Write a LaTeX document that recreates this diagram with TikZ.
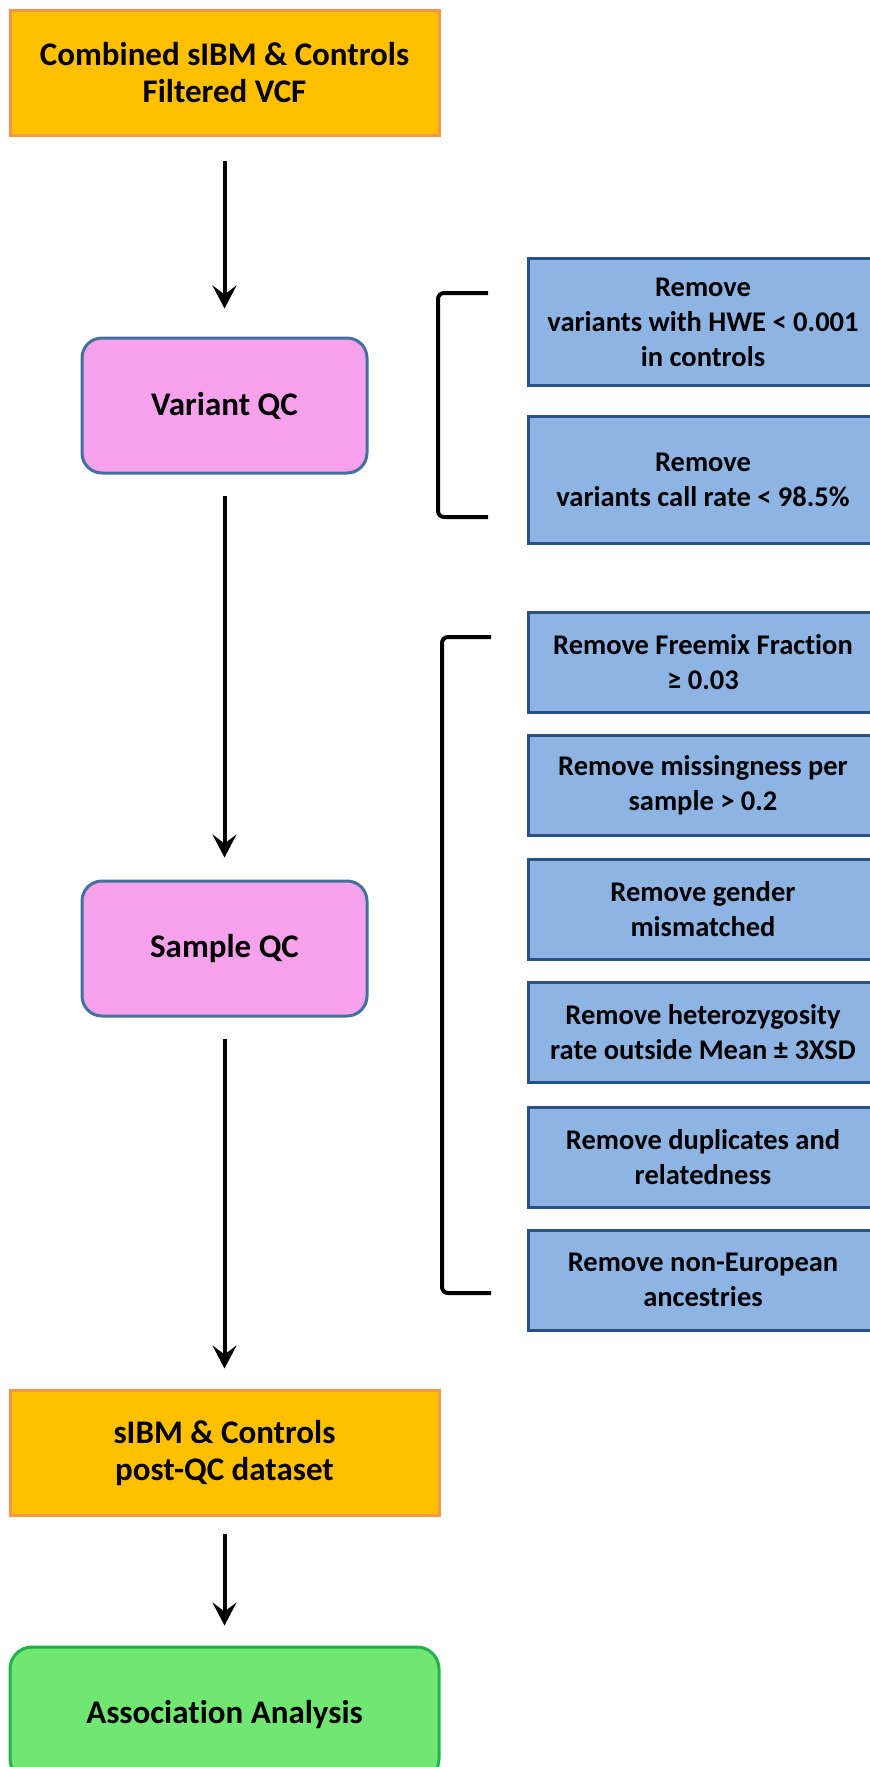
\documentclass[tikz,border=0pt]{standalone}
\usepackage{fontspec}
\setmainfont[Ligatures={NoCommon}]{Carlito}
\usetikzlibrary{arrows.meta}

\definecolor{orangefill}{HTML}{FFC000}
\definecolor{orangeline}{HTML}{F79646}
\definecolor{pinkfill}{HTML}{F6A1EC}
\definecolor{pinkline}{HTML}{41719C}
\definecolor{bluefill}{HTML}{8EB4E3}
\definecolor{blueline}{HTML}{2A5186}
\definecolor{greenfill}{HTML}{71E672}
\definecolor{greenline}{HTML}{22B14C}

\tikzset{
  databox/.style={draw=orangeline, fill=orangefill, line width=3pt,
    minimum width=429pt, minimum height=125pt, align=center,
    font=\bfseries\fontsize{33}{37}\selectfont},
  qcbox/.style={draw=pinkline, fill=pinkfill, line width=3pt, rounded corners=20pt,
    minimum width=285pt, minimum height=135pt, align=center,
    font=\bfseries\fontsize{33}{37}\selectfont},
  rulebox/.style={draw=blueline, fill=bluefill, line width=3pt,
    minimum width=350pt, align=center, inner sep=0pt,
    font=\bfseries\fontsize{28.5}{35}\selectfont},
  resultbox/.style={draw=greenline, fill=greenfill, line width=3pt, rounded corners=22pt,
    minimum width=429pt, minimum height=134pt, align=center,
    font=\bfseries\fontsize{33}{37}\selectfont},
  flow/.style={line width=4pt, -{Stealth[length=23pt, width=24pt, inset=9pt]}},
  bracket/.style={line width=4pt, rounded corners=6pt},
}

\begin{document}
\begin{tikzpicture}[x=1pt, y=-1pt]
  \useasboundingbox (0,0) rectangle (870,1767);

  % main pipeline
  \node[databox]   (vcf)    at (224.5, 72.5)  {Combined sIBM \& Controls\\Filtered VCF};
  \node[qcbox]     (vqc)    at (224.5, 405.5) {Variant QC};
  \node[qcbox]     (sqc)    at (224.5, 948.5) {Sample QC};
  \node[databox]   (post)   at (224.5, 1452.5){sIBM \& Controls\\post-QC dataset};
  \node[resultbox] (assoc)  at (224.5, 1714)  {Association Analysis};

  \draw[flow, shorten <=24pt, shorten >=28pt] (vcf) -- (vqc);
  \draw[flow, shorten <=21pt, shorten >=22pt] (vqc) -- (sqc);
  \draw[flow, shorten <=21pt, shorten >=20pt] (sqc) -- (post);
  \draw[flow, shorten <=17pt, shorten >=20pt] (post) -- (assoc);

  % variant filters
  \node[rulebox, minimum height=127pt] (hwe)  at (703, 322)
    {Remove\\variants with HWE < 0.001\\in controls};
  \node[rulebox, minimum height=127pt] (call) at (703, 479.5)
    {Remove\\variants call rate < 98.5\%};

  % sample filters
  \node[rulebox, minimum height=100pt] (mix)  at (703, 662.5)
    {Remove Freemix Fraction\\≥ 0.03};
  \node[rulebox, minimum height=100pt] (miss) at (703, 785.5)
    {Remove missingness per\\sample > 0.2};
  \node[rulebox, minimum height=100pt] (sex)  at (703, 909)
    {Remove gender\\mismatched};
  \node[rulebox, minimum height=100pt] (het)  at (703, 1032)
    {Remove heterozygosity\\rate outside Mean ± 3XSD};
  \node[rulebox, minimum height=100pt] (dup)  at (703, 1157)
    {Remove duplicates and\\relatedness};
  \node[rulebox, minimum height=100pt] (anc)  at (703, 1280)
    {Remove non-European\\ancestries};

  % brackets grouping the filters
  \coordinate (vb1) at (488, 293);
  \coordinate (vb2) at (488, 517);
  \draw[bracket] (vb1) -- (438, 293) -- (438, 517) -- (vb2);
  \coordinate (sb1) at (491, 637);
  \coordinate (sb2) at (491, 1293);
  \draw[bracket] (sb1) -- (442, 637) -- (442, 1293) -- (sb2);
\end{tikzpicture}
\end{document}
